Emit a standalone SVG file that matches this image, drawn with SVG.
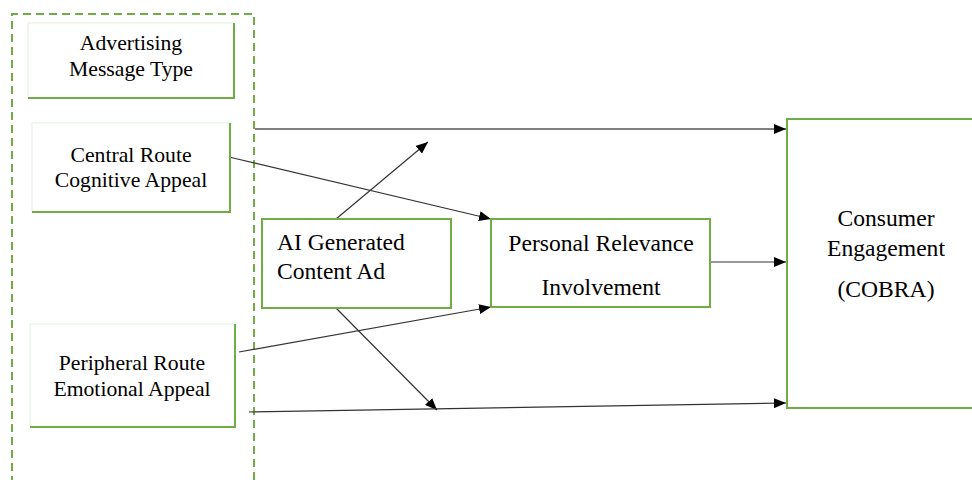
<svg xmlns="http://www.w3.org/2000/svg" width="972" height="480" viewBox="0 0 972 480">
<defs>
<style>
.t{font-family:"Liberation Serif","Times New Roman",serif;fill:#000}
.l{font-size:21.7px;text-anchor:middle}
.r{font-size:23.6px}
.faint{fill:#fff;stroke:#e2efd9;stroke-width:1}
.edge{fill:none;stroke:#70AD47;stroke-width:2}
.box{fill:#fff;stroke:#70AD47;stroke-width:2}
.c{fill:none;stroke:#333;stroke-width:1.2;marker-end:url(#ah)}
</style>
<marker id="ah" markerUnits="userSpaceOnUse" markerWidth="12" markerHeight="10" refX="12" refY="5" orient="auto">
<path d="M0,0 L12,5 L0,10 z" fill="#000"/>
</marker>
</defs>
<rect width="972" height="480" fill="#fff"/>
<g id="group-message-type">
<path d="M12,484 L12,14 L254,14 L254,484" fill="none" stroke="#70AD47" stroke-width="2" stroke-dasharray="8 5"/>
</g>
<g id="connectors">
<line class="c" x1="255" y1="129" x2="786" y2="129" style="stroke:#555;stroke-width:1.5"/>
<line class="c" x1="229" y1="157" x2="491" y2="219"/>
<line class="c" x1="336" y1="219" x2="428" y2="142"/>
<line class="c" x1="239" y1="352" x2="491" y2="307"/>
<line class="c" x1="335" y1="307" x2="437" y2="410"/>
<line class="c" x1="249" y1="412" x2="786" y2="403"/>
<line class="c" x1="710" y1="262" x2="786" y2="262"/>
</g>
<g id="node-advertising">
<rect class="faint" x="28" y="23" width="206" height="75"/>
<polyline class="edge" points="234,23 234,98 28,98"/>
<text class="t l" x="131" y="50">Advertising</text>
<text class="t l" x="131" y="76">Message Type</text>
</g>
<g id="node-central">
<rect class="faint" x="32" y="123" width="198" height="89"/>
<polyline class="edge" points="230,123 230,212 32,212"/>
<text class="t l" x="131" y="162">Central Route</text>
<text class="t l" x="131" y="187">Cognitive Appeal</text>
</g>
<g id="node-peripheral">
<rect class="faint" x="30" y="324" width="205" height="103"/>
<polyline class="edge" points="235,324 235,427 30,427"/>
<text class="t l" x="132" y="370">Peripheral Route</text>
<text class="t l" x="132" y="396">Emotional Appeal</text>
</g>
<g id="node-ai">
<rect class="box" x="262" y="219" width="189" height="89"/>
<text class="t r" x="277" y="250">AI Generated</text>
<text class="t r" x="277" y="279">Content Ad</text>
</g>
<g id="node-personal">
<rect class="box" x="491" y="219" width="219" height="88"/>
<text class="t r" x="601" y="251" text-anchor="middle">Personal Relevance</text>
<text class="t r" x="601" y="295" text-anchor="middle">Involvement</text>
</g>
<g id="node-consumer">
<rect class="box" x="787" y="119" width="190" height="289"/>
<text class="t r" x="886" y="226" text-anchor="middle">Consumer</text>
<text class="t r" x="886" y="256" text-anchor="middle">Engagement</text>
<text class="t r" x="886" y="297" text-anchor="middle">(COBRA)</text>
</g>
</svg>
